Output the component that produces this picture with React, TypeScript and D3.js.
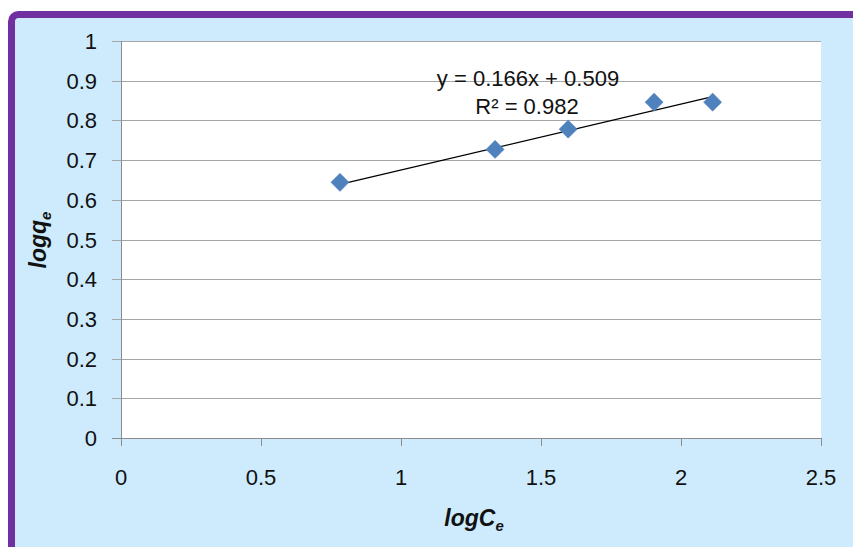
import { useMemo } from 'react'
import * as d3 from 'd3'

// logCe / logqe points
const LOG_CE = [0.782, 1.336, 1.597, 1.904, 2.113]
const LOG_QE = [0.644, 0.727, 0.778, 0.846, 0.846]

// trendline as printed on the chart
const SLOPE = 0.166
const INTERCEPT = 0.509
const R2 = 0.982

const X_TICKS = [0, 0.5, 1, 1.5, 2, 2.5]
const Y_TICKS = [0, 0.1, 0.2, 0.3, 0.4, 0.5, 0.6, 0.7, 0.8, 0.9, 1]

const W = 853
const H = 547
const PLOT = { left: 121, right: 821, top: 41, bottom: 438 }
const FONT = '"Liberation Sans", Arial, sans-serif'
const GRID = '#a6a6a6'
const AXIS = '#8c8c8c'
const TEXT = '#111111'

export default function App() {
  const x = useMemo(() => d3.scaleLinear().domain([0, 2.5]).range([PLOT.left, PLOT.right]), [])
  const y = useMemo(() => d3.scaleLinear().domain([0, 1]).range([PLOT.bottom, PLOT.top]), [])

  const diamond = d3.symbol().type(d3.symbolSquare).size(165)()
  const xMin = d3.min(LOG_CE) as number
  const xMax = d3.max(LOG_CE) as number
  const trend = d3.line<number>()
    .x(d => x(d))
    .y(d => y(SLOPE * d + INTERCEPT))([xMin, xMax])

  return (
    <svg width={W} height={H} style={{ position: 'fixed', left: 0, top: 0, display: 'block' }} fontFamily={FONT}>
      <rect x={0} y={0} width={W} height={H} fill="#ffffff" />
      {/* purple frame, only left and top edges visible */}
      <rect x={11.5} y={14.5} width={W + 40} height={H + 40} rx={7} fill="#cdebfd" stroke="#7030a0" strokeWidth={7} />

      {/* plot area */}
      <rect x={PLOT.left} y={PLOT.top} width={PLOT.right - PLOT.left} height={PLOT.bottom - PLOT.top} fill="#ffffff" />

      {/* grid lines + y ticks */}
      {Y_TICKS.map(t => (
        <line key={t} x1={PLOT.left - 9} x2={PLOT.right} y1={Math.round(y(t)) + 0.5} y2={Math.round(y(t)) + 0.5}
          stroke={t === 0 ? AXIS : GRID} strokeWidth={1} />
      ))}
      {/* axes */}
      <line x1={PLOT.left + 0.5} x2={PLOT.left + 0.5} y1={PLOT.top} y2={PLOT.bottom + 8} stroke={AXIS} />
      {X_TICKS.map(t => (
        <line key={t} x1={Math.round(x(t)) + 0.5} x2={Math.round(x(t)) + 0.5} y1={PLOT.bottom} y2={PLOT.bottom + 8} stroke={AXIS} />
      ))}

      {/* tick labels */}
      {Y_TICKS.map(t => (
        <text key={t} x={97} y={y(t) + 8} textAnchor="end" fontSize={22} fill={TEXT}>{String(t)}</text>
      ))}
      {X_TICKS.map(t => (
        <text key={t} x={x(t)} y={485} textAnchor="middle" fontSize={22} fill={TEXT}>{String(t)}</text>
      ))}

      {/* trendline */}
      <path d={trend ?? ''} fill="none" stroke="#000000" strokeWidth={1.3} />

      {/* points */}
      {LOG_CE.map((v, i) => (
        <path key={i} d={diamond ?? ''} transform={`translate(${x(v)},${y(LOG_QE[i])}) rotate(45)`}
          fill="#4f81bd" stroke="#5b8bc6" strokeWidth={0.5} />
      ))}

      {/* equation */}
      <text x={528} y={86} textAnchor="middle" fontSize={22} fill={TEXT}>
        {`y = ${SLOPE}x + ${INTERCEPT}`}
      </text>
      <text x={527} y={114} textAnchor="middle" fontSize={22} fill={TEXT}>
        {`R² = ${R2}`}
      </text>

      {/* axis titles */}
      <text x={474} y={526} textAnchor="middle" fontSize={23} fontWeight="bold" fontStyle="italic" fill={TEXT}>
        logC<tspan fontSize={15} dy={5}>e</tspan>
      </text>
      <text transform="translate(46,240) rotate(-90)" textAnchor="middle" fontSize={23} fontWeight="bold" fontStyle="italic" fill={TEXT}>
        logq<tspan fontSize={15} dy={5}>e</tspan>
      </text>
    </svg>
  )
}
